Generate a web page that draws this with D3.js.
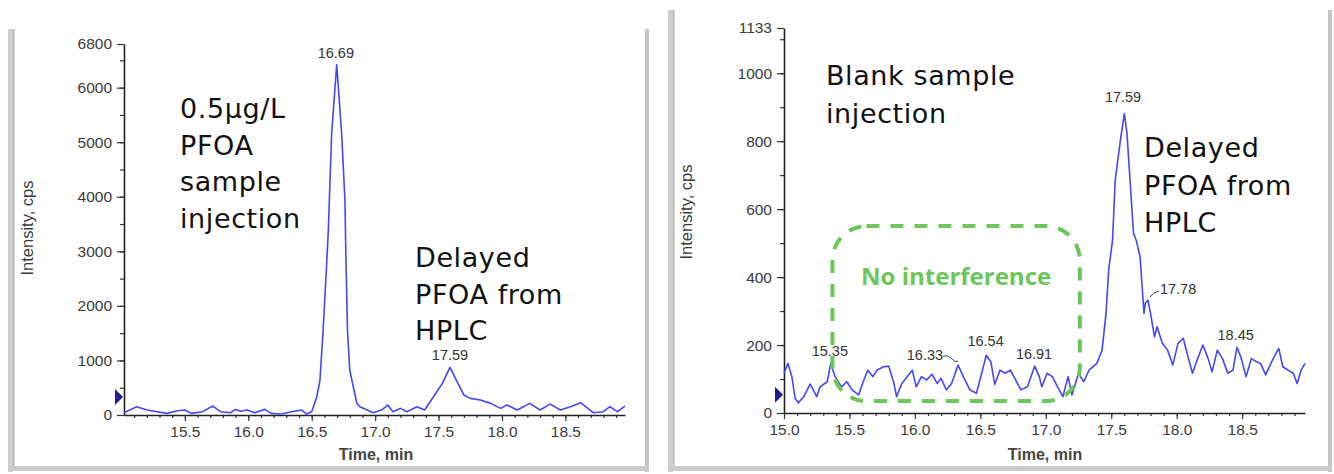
<!DOCTYPE html>
<html>
<head>
<meta charset="utf-8">
<script src="https://cdnjs.cloudflare.com/ajax/libs/d3/7.8.5/d3.min.js"></script>
<style>
body { margin: 0; background: #fff; }
svg { display: block; }
.tick text { font-family: "Liberation Sans", Arial, sans-serif; fill: #3a3a3a; }
</style>
</head>
<body>
<svg id="chart" width="1334" height="474"></svg>
<script>
// left trace: 0.5 ug/L PFOA sample injection
var sampleTime = [15.02, 15.12, 15.20, 15.28, 15.36, 15.44, 15.50, 15.55, 15.64, 15.72, 15.78, 15.86, 15.90, 15.94, 15.99,
    16.05, 16.13, 16.18, 16.26, 16.34, 16.42, 16.46, 16.50, 16.54, 16.565, 16.59, 16.618, 16.631, 16.657, 16.676, 16.697,
    16.71, 16.736, 16.762, 16.77, 16.782, 16.80, 16.855, 16.88, 16.986, 17.05, 17.10, 17.14, 17.20, 17.25, 17.33, 17.39,
    17.46, 17.53, 17.59, 17.64, 17.70, 17.75, 17.83, 17.91, 17.99, 18.04, 18.12, 18.22, 18.30, 18.38, 18.46, 18.54,
    18.62, 18.72, 18.80, 18.85, 18.91, 18.97];
var sampleValue = [42, 152, 91, 61, 30, 79, 91, 30, 61, 164, 61, 42, 103, 70, 91,
    42, 103, 30, 18, 61, 91, 18, 61, 335, 640, 1554, 2779, 3382, 5155, 5760, 6420,
    6000, 5155, 3930, 2830, 1554, 820, 220, 150, 42, 91, 183, 61, 122, 61, 152, 91,
    335, 579, 872, 640, 366, 305, 274, 213, 122, 183, 91, 213, 91, 200, 91, 152,
    225, 42, 61, 152, 61, 164];

// right trace: blank sample injection
var blankTime = [15.0, 15.03, 15.06, 15.085, 15.11, 15.15, 15.20, 15.25, 15.275, 15.33, 15.357, 15.39, 15.44, 15.48, 15.52,
    15.57, 15.61, 15.64, 15.68, 15.71, 15.76, 15.80, 15.84, 15.86, 15.90, 15.94, 15.98, 16.01, 16.05, 16.09, 16.13,
    16.17, 16.20, 16.24, 16.28, 16.33, 16.37, 16.42, 16.47, 16.51, 16.545, 16.58, 16.61, 16.65, 16.69, 16.73, 16.77,
    16.81, 16.86, 16.915, 16.95, 16.97, 17.01, 17.05, 17.09, 17.13, 17.17, 17.20, 17.25, 17.29, 17.33, 17.39, 17.43,
    17.46, 17.48, 17.51, 17.53, 17.57, 17.60, 17.62, 17.645, 17.67, 17.69, 17.72, 17.75, 17.76, 17.78, 17.80, 17.83,
    17.85, 17.89, 17.93, 17.97, 18.01, 18.05, 18.08, 18.12, 18.16, 18.20, 18.24, 18.27, 18.31, 18.35, 18.39, 18.43,
    18.46, 18.49, 18.53, 18.57, 18.61, 18.64, 18.68, 18.73, 18.78, 18.81, 18.85, 18.89, 18.92, 18.95, 18.98];
var blankValue = [117, 146, 107, 43, 30, 48, 85, 48, 77, 92, 146, 107, 77, 92, 68,
    53, 97, 126, 107, 126, 136, 138, 87, 48, 87, 107, 126, 77, 107, 97, 114,
    87, 102, 68, 87, 141, 107, 68, 58, 117, 170, 151, 84, 126, 117, 126, 97,
    68, 77, 138, 107, 77, 117, 107, 77, 48, 107, 53, 117, 92, 126, 146, 185,
    293, 420, 509, 685, 803, 881, 823, 676, 529, 509, 460, 293, 323, 332, 293, 224,
    254, 205, 185, 141, 205, 220, 175, 117, 160, 200, 160, 121, 185, 160, 117, 126,
    193, 165, 107, 160, 151, 146, 112, 155, 190, 136, 126, 117, 87, 126, 146];

var sampleXTicks = [15.5, 16.0, 16.5, 17.0, 17.5, 18.0, 18.5];
var sampleYTicks = [0, 1000, 2000, 3000, 4000, 5000, 6000, 6800];
var blankXTicks = [15.0, 15.5, 16.0, 16.5, 17.0, 17.5, 18.0, 18.5];
var blankYTicks = [0, 200, 400, 600, 800, 1000, 1133];

var samplePeaks = ["16.69", "17.59"];
var blankPeaks = ["15.35", "16.33", "16.54", "16.91", "17.59", "17.78", "18.45"];

var sampleText = ["0.5\u03bcg/L", "PFOA", "sample", "injection"];
var delayedText = ["Delayed", "PFOA from", "HPLC"];
var blankText = ["Blank sample", "injection"];
var boxText = "No interference";

var traceColor = "#4646f5";
var greenColor = "#6cc65a";

var svg = d3.select("#chart");

function drawFrame(x0, y0, x1, y1){
    var g = svg.append("g");
    g.append("rect")
        .attr("x", x0).attr("y", y0)
        .attr("width", x1 - x0).attr("height", y1 - y0)
        .attr("fill", "#fff");
    // left, right, bottom borders of the window
    g.append("rect").attr("x", x0).attr("y", y0).attr("width", 5).attr("height", y1 - y0 + 4).attr("fill", "#cfcfcf");
    g.append("rect").attr("x", x0 + 5).attr("y", y0).attr("width", 1.5).attr("height", y1 - y0).attr("fill", "#b4b4b4");
    g.append("rect").attr("x", x1 - 3).attr("y", y0).attr("width", 4).attr("height", y1 - y0 + 4).attr("fill", "#c6c6c6");
    g.append("rect").attr("x", x0).attr("y", y1 - 2).attr("width", x1 - x0 + 1).attr("height", 5).attr("fill", "#cbcbcb");
}

function drawAxes(g, x, y, xTicks, yTicks, xMinor, yMinor){
    g.append("g")
        .attr("transform", "translate(0," + y.range()[0] + ")")
        .call(d3.axisBottom(x).tickValues(xMinor).tickSize(3).tickFormat(""))
        .call(function(a){ a.select(".domain").remove(); });
    g.append("g")
        .attr("transform", "translate(" + x.range()[0] + ",0)")
        .call(d3.axisLeft(y).tickValues(yMinor).tickSize(4).tickFormat(""))
        .call(function(a){ a.select(".domain").remove(); });

    var xa = g.append("g")
        .attr("transform", "translate(0," + y.range()[0] + ")")
        .call(d3.axisBottom(x).tickValues(xTicks).tickSize(6).tickSizeOuter(0).tickPadding(5).tickFormat(d3.format(".1f")));
    xa.selectAll("text").style("font-size", "15.5px");
    var ya = g.append("g")
        .attr("transform", "translate(" + x.range()[0] + ",0)")
        .call(d3.axisLeft(y).tickValues(yTicks).tickSize(7).tickSizeOuter(0).tickPadding(5).tickFormat(d3.format("d")));
    ya.selectAll("text").style("font-size", "15.5px");
    g.selectAll(".domain").attr("stroke", "#222").attr("stroke-width", 1.6);
    g.selectAll(".tick line").attr("stroke", "#333").attr("stroke-width", 1.2);
}

function drawTitles(g, cx, cy, tx, ty){
    g.append("text")
        .attr("transform", "translate(" + cx + "," + cy + ") rotate(-90)")
        .attr("text-anchor", "middle")
        .style("font-family", "Liberation Sans, Arial, sans-serif")
        .style("font-size", "16.5px")
        .attr("fill", "#3a3a3a")
        .text("Intensity, cps");
    g.append("text")
        .attr("x", tx).attr("y", ty)
        .attr("text-anchor", "middle")
        .style("font-family", "Liberation Sans, Arial, sans-serif")
        .style("font-size", "16px")
        .style("font-weight", "bold")
        .attr("fill", "#444")
        .text("Time, min");
}

function drawTrace(g, x, y, times, values){
    var line = d3.line()
        .x(function(d){ return x(d[0]); })
        .y(function(d){ return y(d[1]); });
    g.append("path")
        .datum(d3.zip(times, values))
        .attr("d", line)
        .attr("fill", "none")
        .attr("stroke", traceColor)
        .attr("stroke-width", 1.6)
        .attr("stroke-linejoin", "round");
}

function drawBigText(g, lines, x0, y0, step){
    g.append("g").selectAll("text")
        .data(lines)
        .enter()
        .append("text")
        .attr("x", x0)
        .attr("y", function(d, i){ return y0 + i * step; })
        .style("font-family", "DejaVu Sans, Verdana, sans-serif")
        .style("font-size", "27px")
        .style("letter-spacing", "0.6px")
        .attr("fill", "#111")
        .text(function(d){ return d; });
}

function peakValue(times, values, t){
    var i = d3.minIndex(times, function(d){ return Math.abs(d - t); });
    // local maximum around the labelled time
    var best = i;
    for(var k = Math.max(0, i - 2); k <= Math.min(values.length - 1, i + 2); k++){
        if(values[k] > values[best]) best = k;
    }
    return values[best];
}

function drawPeakLabels(g, x, y, times, values, labels, offsets){
    labels.forEach(function(lab){
        var t = +lab;
        var px = x(t), py = y(peakValue(times, values, t));
        var o = offsets[lab] || {dx: 0, dy: -7, anchor: "middle"};
        g.append("text")
            .attr("x", px + o.dx)
            .attr("y", py + o.dy)
            .attr("text-anchor", o.anchor)
            .style("font-family", "Liberation Sans, Arial, sans-serif")
            .style("font-size", "14.5px")
            .attr("fill", "#333")
            .text(lab);
        if(o.leader){
            g.append("path")
                .attr("d", o.leader(px, py))
                .attr("fill", "none")
                .attr("stroke", "#444")
                .attr("stroke-width", 1);
        }
    });
}

function drawMarker(g, x0, yPos){
    g.append("path")
        .attr("d", "M" + (x0 - 8) + "," + (yPos - 8) + "L" + x0 + "," + yPos + "L" + (x0 - 8) + "," + (yPos + 8) + "Z")
        .attr("fill", "#1c1c9c");
}

// ---------------- left panel ----------------
drawFrame(8, 29, 648, 468);
var gL = svg.append("g");
var xL = d3.scaleLinear().domain([15.02, 18.97]).range([124, 625]);
var yL = d3.scaleLinear().domain([0, 6800]).range([415, 44]);
drawAxes(gL, xL, yL, sampleXTicks, sampleYTicks,
    d3.range(151, 190).map(function(d){ return d / 10; }),
    d3.range(500, 6800, 500));
drawTitles(gL, 33, 228, 376, 460);
drawTrace(gL, xL, yL, sampleTime, sampleValue);
drawMarker(gL, 123, yL(330));
drawPeakLabels(gL, xL, yL, sampleTime, sampleValue, samplePeaks, {});
drawBigText(gL, sampleText, 180, 118, 36.5);
drawBigText(gL, delayedText, 415, 267, 36.5);

// ---------------- right panel ----------------
drawFrame(668, 10, 1331, 468);
var gR = svg.append("g");
var xR = d3.scaleLinear().domain([15.0, 18.98]).range([784, 1305]);
var yR = d3.scaleLinear().domain([0, 1133]).range([413, 28]);
drawAxes(gR, xR, yR, blankXTicks, blankYTicks,
    d3.range(151, 190).map(function(d){ return d / 10; }),
    d3.range(100, 1133, 100));
drawTitles(gR, 692, 212, 1045, 460);
drawTrace(gR, xR, yR, blankTime, blankValue);
drawMarker(gR, 783, yR(54));
drawPeakLabels(gR, xR, yR, blankTime, blankValue, blankPeaks, {
    "16.33": {dx: -15, dy: -5, anchor: "end",
        leader: function(px, py){ return "M" + (px - 15) + "," + (py - 9) + "q6,-1 9,3 t6,2"; }},
    "17.78": {dx: 12, dy: -6, anchor: "start",
        leader: function(px, py){ return "M" + (px + 11) + "," + (py - 9) + "q-6,1 -9,6"; }},
    "17.59": {dx: 0, dy: -12, anchor: "middle"},
    "16.54": {dx: 0, dy: -9, anchor: "middle"}
});
drawBigText(gR, blankText, 826, 85, 38);
drawBigText(gR, delayedText, 1144, 157, 37.5);

// green dashed box
gR.append("rect")
    .attr("x", xR(15.37))
    .attr("y", yR(550))
    .attr("width", xR(17.26) - xR(15.37))
    .attr("height", yR(35) - yR(550))
    .attr("rx", 34)
    .attr("fill", "none")
    .attr("stroke", greenColor)
    .attr("stroke-width", 4)
    .attr("stroke-dasharray", "13,11");
gR.append("text")
    .attr("x", (xR(15.37) + xR(17.26)) / 2)
    .attr("y", 285)
    .attr("text-anchor", "middle")
    .style("font-family", "Open Sans, sans-serif")
    .style("font-size", "24px")
    .style("font-weight", "bold")
    .attr("fill", greenColor)
    .text(boxText);
</script>
</body>
</html>
